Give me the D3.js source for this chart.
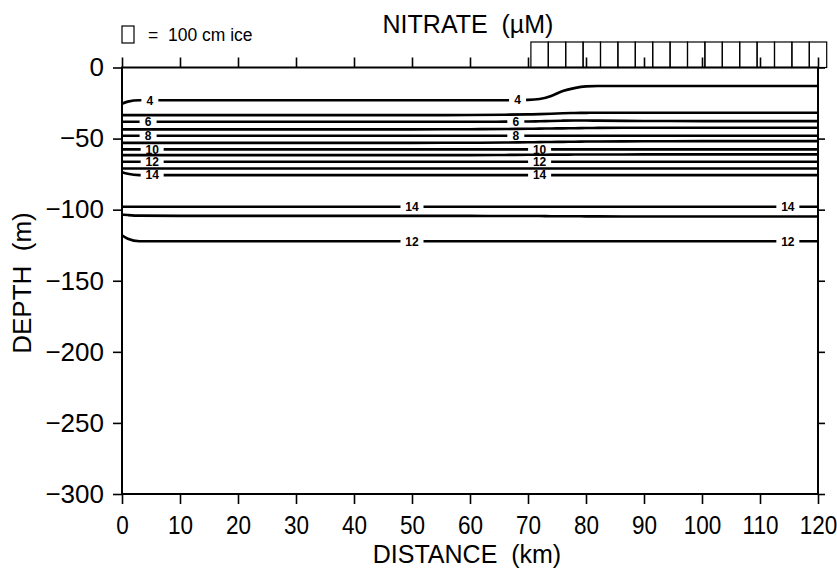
<!DOCTYPE html>
<html>
<head>
<meta charset="utf-8">
<script src="https://cdn.jsdelivr.net/npm/d3@7"></script>
<style>
  html, body { margin: 0; padding: 0; background: #fff; }
  svg { display: block; }
  text { font-family: "Liberation Sans", Arial, Helvetica, sans-serif; fill: #000; white-space: pre; }
</style>
</head>
<body>
<svg id="chart" width="837" height="572"></svg>
<script>
// Distance grid (km) shared by every contour line
const distanceKm = [0, 1, 3, 10, 30, 50, 60, 66, 70, 72, 74, 76, 78, 80, 82, 90, 100, 110, 120];

// Depth (m) of each nitrate isoline along the distance grid
const iso4  = [-25.5, -24.0, -23.0, -23.0, -23.0, -23.0, -23.0, -23.0, -22.8, -22.2, -20.0, -16.5, -14.5, -13.3, -13.0, -13.0, -13.0, -13.0, -13.0];
const iso5  = [-33.5, -33.5, -33.5, -33.5, -33.5, -33.5, -33.4, -33.2, -33.0, -32.8, -32.5, -32.2, -32.0, -31.9, -31.8, -31.8, -31.8, -31.8, -31.8];
const iso6  = [-38.2, -38.2, -38.2, -38.2, -38.2, -38.2, -38.2, -38.1, -38.0, -37.8, -37.6, -37.4, -37.3, -37.3, -37.4, -37.6, -37.7, -37.7, -37.7];
const iso7  = [-43.5, -43.5, -43.5, -43.5, -43.5, -43.5, -43.4, -43.3, -43.1, -43.0, -42.9, -42.8, -42.7, -42.6, -42.5, -42.4, -42.4, -42.4, -42.4];
const iso8  = [-48.0, -48.0, -48.0, -48.0, -48.0, -48.0, -48.0, -48.0, -48.0, -48.0, -48.0, -48.0, -48.0, -48.0, -48.0, -48.0, -48.0, -48.0, -48.0];
const iso9  = [-53.0, -53.0, -53.0, -53.0, -53.0, -53.0, -52.9, -52.8, -52.6, -52.5, -52.4, -52.3, -52.2, -52.1, -52.0, -51.9, -51.8, -51.8, -51.8];
const iso10 = [-57.6, -57.6, -57.6, -57.6, -57.6, -57.6, -57.6, -57.6, -57.6, -57.6, -57.6, -57.6, -57.6, -57.6, -57.6, -57.6, -57.6, -57.6, -57.6];
const iso11 = [-61.6, -61.6, -61.6, -61.6, -61.6, -61.6, -61.6, -61.5, -61.4, -61.4, -61.3, -61.3, -61.2, -61.2, -61.2, -61.1, -61.1, -61.1, -61.1];
const iso12 = [-66.3, -66.3, -66.3, -66.3, -66.3, -66.3, -66.3, -66.3, -66.3, -66.3, -66.3, -66.3, -66.3, -66.3, -66.3, -66.3, -66.3, -66.3, -66.3];
const iso13 = [-71.0, -71.0, -71.0, -71.0, -71.0, -71.0, -71.0, -71.0, -71.0, -71.0, -71.0, -71.0, -71.0, -71.0, -71.0, -71.0, -71.0, -71.0, -71.0];
const iso14 = [-73.6, -74.8, -75.7, -75.7, -75.7, -75.7, -75.7, -75.7, -75.7, -75.7, -75.7, -75.7, -75.7, -75.7, -75.7, -75.7, -75.7, -75.7, -75.7];
const iso14deep = [-98.0, -98.0, -98.0, -98.0, -98.0, -98.0, -98.0, -98.0, -98.0, -98.0, -98.0, -98.0, -98.0, -98.0, -98.0, -98.0, -98.0, -98.0, -98.0];
const iso13deep = [-103.5, -103.8, -104.2, -104.4, -104.4, -104.4, -104.4, -104.5, -104.5, -104.5, -104.6, -104.6, -104.6, -104.7, -104.7, -104.8, -104.8, -104.8, -104.8];
const iso12deep = [-118.0, -120.5, -122.2, -122.2, -122.2, -122.2, -122.2, -122.2, -122.2, -122.2, -122.2, -122.2, -122.2, -122.2, -122.2, -122.2, -122.2, -122.2, -122.2];

// Contour values and where their labels sit (km)
const contourValues = [4, 5, 6, 7, 8, 9, 10, 11, 12, 13, 14, 14, 13, 12];
const contourDepths = [iso4, iso5, iso6, iso7, iso8, iso9, iso10, iso11, iso12, iso13, iso14, iso14deep, iso13deep, iso12deep];
const labelKm = [[4.8, 68.2], [], [4.5, 67.9], [], [4.5, 67.9], [], [5.2, 72], [], [5.2, 72], [], [5.2, 72], [50, 114.8], [], [50, 114.8]];

// Sea-ice cover: station box left edges (km) and thickness (cm)
const iceKm = [70.5, 73.5, 76.5, 79.5, 82.5, 85.5, 88.5, 91.5, 94.5, 97.5, 100.5, 103.5, 106.5, 109.5, 112.5, 115.5, 118.5];
const iceCm = [150, 150, 150, 150, 150, 150, 150, 150, 150, 150, 150, 150, 150, 150, 150, 150, 150];
const iceBoxKm = 3;
const legendCm = 100;

// Axis ticks
const xTicks = [0, 10, 20, 30, 40, 50, 60, 70, 80, 90, 100, 110, 120];
const yTicks = [0, -50, -100, -150, -200, -250, -300];

const svg = d3.select("#chart");
const plotLeft = 122, plotRight = 818, plotTop = 67.5, plotBottom = 494;

const x = d3.scaleLinear().domain([0, 120]).range([plotLeft, plotRight]);
const y = d3.scaleLinear().domain([0, -300]).range([plotTop, plotBottom]);
const icePx = d3.scaleLinear().domain([0, 100]).range([0, 17]);

const fmtMinus = d => (d < 0 ? "\u2212" + Math.abs(d) : String(d));

// Axes
const styleAxis = size => g => {
  g.select(".domain").remove();
  g.selectAll(".tick line").attr("stroke", "#000").attr("stroke-width", 1.6);
  g.selectAll(".tick text").style("font-size", size + "px").attr("fill", "#000");
};

svg.append("g").attr("transform", `translate(0,${plotBottom})`)
  .call(d3.axisBottom(x).tickValues(xTicks).tickSize(10).tickPadding(12).tickFormat(d3.format("d")))
  .call(styleAxis(25))
  .call(g => g.selectAll(".tick text").attr("transform", "scale(0.9,1)"));
svg.append("g").attr("transform", `translate(0,${plotTop})`)
  .call(d3.axisTop(x).tickValues(xTicks).tickSize(10).tickFormat(""))
  .call(styleAxis(25));
svg.append("g").attr("transform", `translate(${plotLeft},0)`)
  .call(d3.axisLeft(y).tickValues(yTicks).tickSize(9).tickPadding(9).tickFormat(fmtMinus))
  .call(styleAxis(26));
svg.append("g").attr("transform", `translate(${plotRight},0)`)
  .call(d3.axisRight(y).tickValues(yTicks).tickSize(7).tickFormat(""))
  .call(styleAxis(25));

// Ice boxes above the section
svg.append("g").selectAll("rect").data(iceKm).join("rect")
  .attr("x", d => x(d))
  .attr("y", (d, i) => plotTop - icePx(iceCm[i]))
  .attr("width", x(iceBoxKm) - x(0))
  .attr("height", (d, i) => icePx(iceCm[i]))
  .attr("fill", "none").attr("stroke", "#000").attr("stroke-width", 1.2);

// Contour lines, broken where labels sit
const line = d3.line().curve(d3.curveMonotoneX).x(d => x(d[0])).y(d => y(d[1]));
const defs = svg.append("defs");
const contours = svg.append("g");

contourValues.forEach((v, i) => {
  const pts = distanceKm.map((k, j) => [k, contourDepths[i][j]]);
  const half = String(v).length > 1 ? 11.5 : 8.5;
  const gaps = labelKm[i].map(k => [x(k) - half, x(k) + half]).sort((a, b) => a[0] - b[0]);
  const clipId = "clip" + i;
  const cp = defs.append("clipPath").attr("id", clipId);
  let start = 0;
  gaps.forEach(g => {
    cp.append("rect").attr("x", start).attr("y", 0).attr("width", g[0] - start).attr("height", 572);
    start = g[1];
  });
  cp.append("rect").attr("x", start).attr("y", 0).attr("width", 837 - start).attr("height", 572);

  contours.append("path").datum(pts)
    .attr("d", line)
    .attr("fill", "none").attr("stroke", "#000").attr("stroke-width", 2.6)
    .attr("clip-path", `url(#${clipId})`);

  labelKm[i].forEach(k => {
    const j = d3.bisectLeft(distanceKm, k);
    const k0 = distanceKm[Math.max(0, j - 1)], k1 = distanceKm[Math.min(distanceKm.length - 1, j)];
    const d0 = contourDepths[i][Math.max(0, j - 1)], d1 = contourDepths[i][Math.min(distanceKm.length - 1, j)];
    const depth = k1 === k0 ? d0 : d0 + (d1 - d0) * (k - k0) / (k1 - k0);
    contours.append("text")
      .attr("x", x(k)).attr("y", y(depth))
      .attr("dy", "0.36em")
      .attr("text-anchor", "middle")
      .style("font-size", "12px").style("font-weight", "bold")
      .text(v);
  });
});

// Frame
svg.append("rect")
  .attr("x", plotLeft).attr("y", plotTop).attr("width", plotRight - plotLeft).attr("height", plotBottom - plotTop)
  .attr("fill", "none").attr("stroke", "#000").attr("stroke-width", 2);

// Titles
svg.append("text").attr("x", 468).attr("y", 33).attr("text-anchor", "middle")
  .style("font-size", "25px").text("NITRATE  (\u00b5M)");
svg.append("text").attr("x", 467).attr("y", 563).attr("text-anchor", "middle")
  .style("font-size", "25px").text("DISTANCE  (km)");
svg.append("text").attr("transform", "translate(31,283) rotate(-90)").attr("text-anchor", "middle")
  .style("font-size", "26px").text("DEPTH  (m)");

// Ice thickness legend
svg.append("rect").attr("x", 122).attr("y", 43 - icePx(legendCm)).attr("width", 12).attr("height", icePx(legendCm))
  .attr("fill", "none").attr("stroke", "#000").attr("stroke-width", 1.2);
svg.append("text").attr("x", 148).attr("y", 41).style("font-size", "17.5px").text("=  100 cm ice");
</script>
</body>
</html>
